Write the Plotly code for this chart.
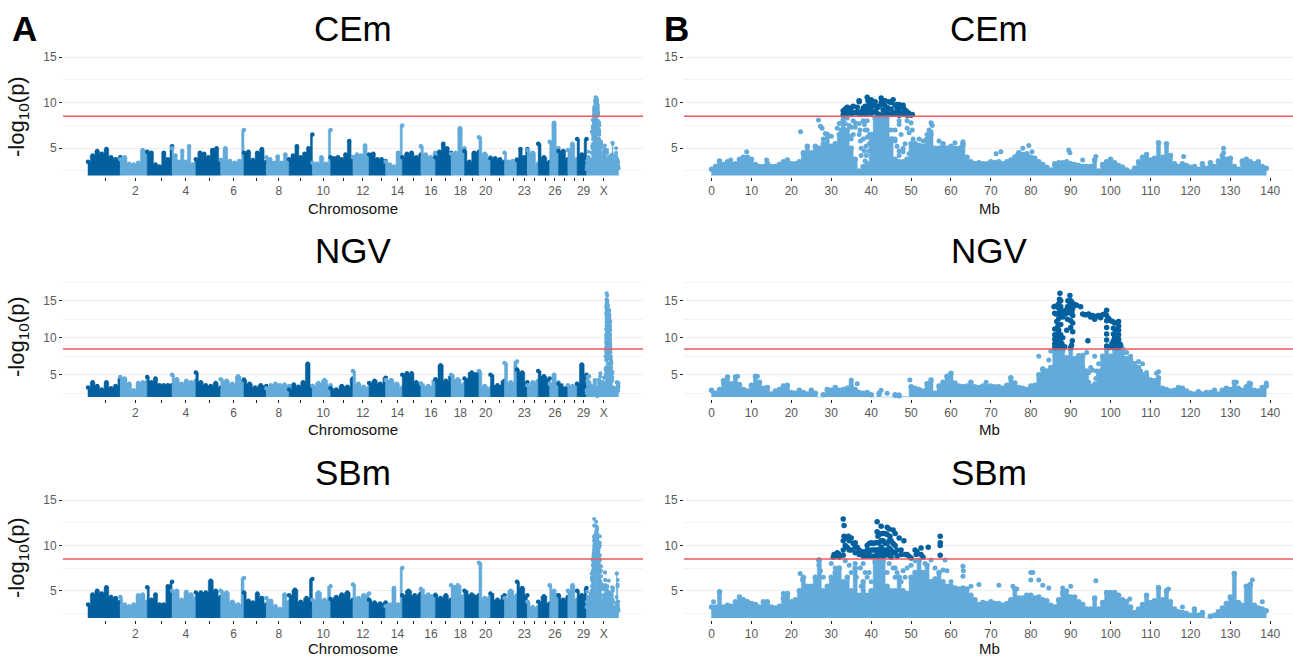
import numpy as np
import plotly.graph_objects as go

DARK = "#03609e"
LIGHT = "#62aad9"
THRESHOLD = 8.5
BASE = 2.0

CHR_LENGTHS = [140,117,108,103,108,101,97,99,101,79,97,70,72,72,81,63,68,58,63,50,61,54,45,47,50,38,41,40,41,139]
CHR_TICKS = [77,205,319,425,529,632,733,828,923,1021,1107,1193,1274,1343,1411,1489,1553,1616,1670,1726,1787,1845,1894,1940,1987,2027,2070,2111,2151,2239]
CHR_LABELS = ["","2","","4","","6","","8","","10","","12","","14","","16","","18","","20","","","23","","","26","","","29","X"]
MB_TICKS = list(range(0, 141, 10))

# autosomes 1-29: height of the mass along each chromosome
CEM_GENOME = [
 [3.5,4.2,4.7,4.4,4.9,4.0,3.8,4.0],[3.8,4.0,3.3,3.2,3.4,4.8,4.6],[4.6,4.5,3.2,3.0,4.5,3.8,5.2],[5.0,4.2,3.5,4.7,3.5,5.2,3.2,3.4],
 [3.8,4.5,4.4,4.0,4.8,5.0,3.7],[3.7,5.0,3.6,3.4,3.6,7.0],[4.5,4.6,3.7,4.5,4.9,3.5],[4.0,3.8,3.4,4.1,3.4,4.3,3.5],
 [3.8,4.2,5.2,4.0,4.4,5.0,6.5],[3.4,3.3,4.0,3.3,7.0],[4.0,3.9,4.0,3.8,4.3,5.8,4.0],[4.0,4.3,4.2,5.3,4.0],[4.3,4.4,3.8,3.8,3.6],
 [3.5,3.2,3.0,4.5,7.5],[4.0,4.4,4.5,4.0,4.3],[5.2,4.3,4.0,4.5],[4.0,4.6,5.5,5.0,4.5],[4.4,4.5,7.2,5.0],[4.7,3.5,4.5,4.6],
 [6.2,4.4,4.0],[3.9,3.9,3.8,3.5],[4.5,3.5,3.6,3.8],[3.7,4.9,4.0,4.9],[4.8,4.5,3.3],[5.5,4.0,3.5],[5.7,7.8,5.0],[4.7,4.7,3.8],
 [4.8,5.5,3.8],[6.0,4.3,6.0]]
NGV_GENOME = [
 [3.3,4.0,3.5,3.0,4.0,3.2,3.5,4.5],[4.7,4.5,3.8,2.9,3.9,4.0,4.1],[4.7,4.0,4.5,3.6,3.6,3.6,3.6],[5.0,4.4,3.8,4.2,4.0,4.2],
 [5.3,4.0,3.6,3.5,3.9,3.3],[4.4,4.2,3.8,4.8,4.4],[4.3,3.8,3.3,3.6,3.5],[3.2,3.6,3.8,3.6,3.7,3.5],[3.0,3.7,3.4,4.0,6.5,3.5],
 [3.5,3.9,4.3,3.6],[3.2,3.0,3.5,3.4,4.5],[5.5,3.8,3.4,3.3],[3.9,4.2,3.8,4.6],[4.3,4.3,3.8,3.3],[5.0,5.2,5.2,4.0,3.8],[3.8,3.5,4.3],
 [4.4,6.3,4.2,4.8],[5.0,4.4,3.8],[4.5,5.3,5.3],[5.5,3.5,3.2],[5.0,3.6,4.2],[6.6,4.0,6.8],[5.7,5.3,4.0],[3.6,4.0,4.2],[5.5,4.8,4.5],
 [3.8,5.0,4.0],[3.8,3.4],[3.6,3.5,3.8],[3.8,6.4,5.0]]
SBM_GENOME = [
 [3.5,4.6,5.0,4.7,5.4,4.3,4.2,3.8],[4.3,3.5,3.3,3.5,4.5,4.6,3.8],[5.4,4.0,4.6,3.5,3.5,5.5,6.0],[5.0,5.0,4.0,4.9,4.6,4.2],
 [4.8,4.8,4.8,6.1,5.0,4.3],[5.0,4.8,3.8,3.5,6.4],[4.8,3.9,3.7,4.7,4.2,3.5],[4.2,3.9,3.3,3.0,4.6,3.8],[4.5,5.1,3.8,4.2,6.3],
 [4.0,4.8,4.0,5.5],[4.1,4.3,4.6,4.8,4.0],[5.7,4.2,4.5,4.7],[4.0,3.7,3.6,3.7],[3.3,3.5,5.3,3.5,7.5],[4.5,5.0,4.5,4.7],[5.2,4.6,4.6],
 [4.5,4.2,4.5,4.0],[5.6,5.6,4.5],[5.0,4.6,4.5],[8.1,4.2,4.4],[4.7,4.0,4.5],[4.2,5.0,4.5],[6.0,5.3,4.5],[3.8,3.2,3.2],[3.8,4.4,3.6],
 [5.6,5.0,4.5],[4.5,4.0,4.3],[5.0,5.6,4.0],[5.0,4.5,5.3]]

# top of the solid mass, one value per Mb of chromosome X
X_MB = list(range(0, 140))
CEM_X = [2.7,3.0,3.6,3.2,3.5,3.2,3.3,3.8,4.0,4.0,3.8,3.2,3.0,3.0,3.3,3.0,3.0,3.2,3.5,3.7,3.3,3.3,3.5,4.5,5.2,4.5,5.2,5.0,5.5,6.5,5.2,5.5,6.5,8.0,7.0,5.0,3.8,2.5,3.0,3.3,6.5,8.3,8.5,8.5,8.5,6.0,3.8,3.5,3.5,3.8,5.5,5.5,5.3,5.2,6.0,6.5,5.0,5.0,5.5,5.0,5.2,5.0,5.0,5.5,4.0,3.5,3.3,3.4,3.3,3.3,3.5,3.4,3.5,3.3,3.5,3.7,4.0,4.5,4.3,4.4,4.0,3.9,3.5,3.2,2.9,2.6,3.3,3.4,3.4,3.5,3.3,3.2,3.1,3.0,3.0,3.0,3.7,2.5,3.2,3.5,3.8,3.4,3.1,2.9,2.6,2.4,2.8,3.5,4.0,4.3,3.7,3.9,5.6,4.0,5.5,4.2,3.3,3.0,3.3,3.1,2.9,3.0,2.7,3.3,2.8,3.4,3.0,3.6,4.2,3.8,3.9,3.0,2.7,3.6,3.8,3.5,3.3,3.5,3.0,2.8]
NGV_X = [2.9,2.5,3.0,4.2,4.7,3.8,4.7,3.7,3.0,2.8,3.6,4.8,4.0,3.2,3.3,2.4,2.8,3.0,3.5,3.6,2.6,2.5,2.9,2.6,2.4,2.9,2.5,2.0,2.3,3.0,2.9,3.3,2.9,3.0,3.2,3.5,3.0,2.6,2.5,2.6,2.3,2.0,2.5,2.0,2.0,2.0,2.3,2.1,2.0,2.0,3.4,3.2,3.0,2.8,3.8,4.3,2.5,3.5,4.0,4.8,5.2,3.9,3.5,3.4,3.5,4.0,3.4,3.3,3.5,3.4,3.5,3.4,3.4,3.2,3.6,4.6,3.9,3.3,3.2,3.0,3.5,3.6,5.0,5.8,5.5,6.0,8.5,8.5,8.3,7.3,8.5,7.2,7.5,7.6,5.5,3.2,3.5,5.0,7.5,8.5,7.5,8.5,8.5,8.3,7.2,7.0,6.5,6.0,5.0,4.8,4.3,4.2,4.6,3.2,3.0,2.8,2.9,3.3,3.2,2.8,2.5,2.4,2.7,2.4,2.6,2.6,2.9,2.4,2.9,3.2,3.0,4.0,3.2,2.9,3.4,3.8,2.9,2.8,3.3,3.5]
SBM_X = [3.2,3.2,4.9,3.2,3.4,3.3,3.8,4.3,4.0,3.8,3.6,3.5,3.2,3.8,3.8,3.2,3.1,3.3,4.2,4.7,3.8,4.0,5.0,6.5,5.5,5.5,6.5,8.4,5.0,5.5,6.5,7.0,7.5,6.0,6.5,5.0,7.5,4.5,6.0,4.5,5.0,8.2,8.5,8.3,5.5,5.0,5.0,6.5,5.0,4.7,6.5,7.0,8.3,7.0,7.8,6.0,6.3,7.0,6.0,5.5,5.5,5.3,5.2,5.3,5.2,4.5,4.0,3.5,3.7,3.6,3.8,3.6,3.6,3.4,3.6,4.0,5.2,4.2,4.2,4.5,4.5,4.2,4.3,4.0,3.9,3.4,3.2,4.0,4.8,4.5,4.3,4.3,3.8,3.5,3.0,3.0,4.2,3.0,3.7,4.8,4.8,4.8,4.5,4.0,3.8,3.2,2.6,3.0,3.5,4.5,3.7,3.9,5.3,4.0,5.0,3.8,3.0,2.7,2.6,2.5,2.3,3.0,2.3,2.6,2.0,2.2,2.3,2.7,3.1,3.6,4.3,6.9,3.7,3.4,5.5,5.7,3.4,3.1,3.0,2.8]

CEM_LIGHT_MB = [22.3,26.8,27.3,27.7,28.5,29,28,30,31.5,32,32.5,33,33.5,34,34.5,35,35.5,36,37,37,37.3,37.5,37.5,38,38.3,38.7,39,39,38.8,38.5,39.5,39.6,46,46,46.5,47,47,47.5,47,48,48.5,49,49,49.5,50,50.3,49.5,50,50.5,51,52,53,54,54.5,55,55.3,55,57,58,61,63,63,8.8,13.8,71.3,72.5,76.5,78,79.5,80.3,89.5,89.8,93,96.3,118.3,128.3,128.3,4.8,38,38.5,39,37.2,39.5,38.3,45,45.5,46,47,48,36,35.5,35,34.5]
CEM_LIGHT_P = [6.8,8.1,7.4,7.2,6.6,6.5,6.0,6.3,7.2,7.7,7.0,8.3,7.7,8.3,7.5,7.3,8.0,7.8,7.7,6.5,5.8,5.0,4.2,8.0,7.6,5.2,8.0,7.0,4.2,3.6,4.7,6.5,7.0,5.8,5.2,8.0,7.6,6.5,4.7,5.0,5.5,8.0,7.2,6.7,7.8,7.0,4.4,3.4,6.0,5.5,6.0,5.8,6.5,7.0,7.8,7.5,6.8,5.8,5.3,5.6,5.7,5.3,4.6,3.7,4.4,4.6,4.2,5.0,5.3,4.6,4.8,4.5,3.7,4.1,4.1,5.0,4.5,3.7,6.0,7.0,6.2,7.0,5.5,4.7,7.0,6.0,6.0,4.2,4.6,7.3,6.5,6.0,6.3]
CEM_HIT_MB = [33,33,33.5,34,34.5,35,35,35.5,36,36.5,37,37,37,37.5,38,38.5,39,39.2,39.5,39.7,40,40,40.3,40.6,41,41,41.5,42,42,42.5,42.5,43,43.3,43.5,44,44,44.5,45,45,45.5,45,46,46.5,47,47,47.5,48,48,48.5,49,49,49.5,50,50.3,33.5,34,35.5,36.5,37.5,38,38.5,39,39,40.5,41.5,43,44,45.5,46,46.5,47,48,47.5,43,41,38.5]
CEM_HIT_P = [8.7,9.1,9.3,8.8,9.0,8.7,9.4,9.6,8.9,9.0,10.1,10.2,8.7,9.0,8.8,9.1,10.6,10.2,9.9,9.2,8.8,10.3,9.6,10.0,9.0,9.7,9.4,8.7,9.6,10.5,10.0,9.2,9.7,10.2,8.7,9.5,10.1,10.0,9.3,10.3,8.7,9.7,9.3,9.8,9.0,9.5,9.4,8.8,9.2,9.0,8.6,8.8,8.6,8.7,8.7,9.5,8.9,9.5,8.7,9.4,8.7,8.8,9.5,9.0,8.8,8.7,9.0,8.9,8.8,9.8,8.6,9.7,8.8,10.2,10.1,9.6]

NGV_LIGHT_MB = [82,83,84.5,85,86,35,35,36.5,6.5,11.5,49.7,42.5,44,46,47,68.8,131.5,134.7,139,112,111.5,108,107,107.5,109,94,92,96,93,95,97,94.5,95,96,96.3,93.3,92.5,91.5,91.6,93,97,103,104,105,94.5,95.5,96.5,97.3]
NGV_LIGHT_P = [7.5,5.8,7,8.2,8,4.3,4.0,3.8,4.8,4.8,4.3,2.9,2.5,2.2,2.3,4.0,4.0,3.9,3.9,5.4,5.2,6.5,6.8,5.5,5.3,8,7.6,7.5,6,6,6.5,4.0,3.5,3.8,4.5,4.2,5,5,3.6,3.2,4.7,8.6,8,7.5,5.3,5.6,5.5,5.5]
NGV_HIT_MB = [86,86,86,86,86,85.8,86.3,86.5,86.3,86.8,86.8,86.8,86.8,87,87,87,87,87.2,87.3,87.5,87.5,87.5,87.5,87.5,87.5,87.5,88,88,88,88.3,88.7,88.5,89,89.2,89,89.3,89.5,89.8,90,90,90,90,90,90.2,90,90.3,90.5,90.5,90.5,91,91.5,90.5,90.4,92.5,93,93.5,94,94.5,95,95,95.5,96,96.5,97,97.5,98,98.5,99,99,99,99,99,99,99,99.5,99.5,100,100.5,100.7,100.7,100.7,100.7,101,101.3,101.5,101.5,101.5,102,102,102,102,102,102.3,102.5,94.3,86.3,86.3,86.3,86.5,87,87,87,87,87.8,100,100.3,101,101,101,101.8,102,86,87.6,90.3,89.8,89.7,89.2]
NGV_HIT_P = [8.7,9.2,9.8,10.4,11.2,14.2,13.2,12.2,14.3,8.8,9.5,10.5,11.6,12.6,13.3,14.0,14.6,15.2,16.0,15.0,14.2,13.0,11.8,10.4,8.9,9.4,8.7,10.0,12.8,13.6,13.2,8.8,13.8,12.5,11.0,15.0,14.2,15.7,15.0,14.2,13.3,12.3,11.4,9.0,8.7,14.8,14.0,13.0,12.0,14.5,14.4,10.8,9.6,14.2,13.2,13.1,13.1,13.2,13.0,12.8,13.0,12.5,12.9,13.0,12.7,13.1,13.2,13.7,13.0,12.3,11.4,10.5,9.7,8.9,12.6,8.7,12.3,12.2,11.3,10.5,9.6,8.8,12,11.0,10.3,9.4,8.7,12.2,11.6,11,10.4,9.8,9.2,9,9.6,8.7,9.5,10.2,11.2,8.7,9.3,10.0,11.0,9.2,8.7,9.2,8.7,9.3,10.0,8.9,8.7,13.3,13.6,13.5,14.5,13.5,14.2]

SBM_LIGHT_MB = [22.2,22.8,26.8,26.9,27.3,28,30,31,33.5,34.5,35,36,36.3,37.3,38,38.5,37.5,38,39,46,46.5,47,47.5,48,48.5,49,50,51,52,53.5,55,56,58.5,58,59,60,63,63.1,63,65,67,72,75.5,76.5,80,80.5,80,82,83,84.5,88,89,90,96.3,104.8,112,114.5,118,131,135.5,138,0.5,18,19,39.5,40,44.5,45.5,44,46]
SBM_LIGHT_P = [6.9,6.2,8.4,7.8,7.2,6.5,8,7.5,8.3,7.8,7,8,6.5,7.5,8,7,5.5,5,6.5,7.5,7,6.5,6,7.2,6.5,7.5,7.8,8.3,8.4,8,8.4,7.5,8.4,7.3,7.2,6,7.7,7.2,6.6,5.5,5.7,5.6,5.5,5.2,7.0,7.0,6.2,6.2,5.6,5.3,5.3,5.0,5.5,6.1,4.1,5.4,5.2,3.2,6.9,6.2,3.8,3.8,4.7,4.4,7.0,6.0,8.0,7.5,7.0,6.5]
SBM_HIT_MB = [30.5,30.7,31,32,32,33,33.2,33.2,33,33.5,33,33.8,34.3,34.5,35,35.5,35,36,36,36.5,37,38,38.7,39,39,39,39.5,40,40,40,40.5,41,41,41,41.5,41.5,41.7,42,42,42,42.5,42.7,43,43,43,43.5,44,44,44,44.5,44.7,45,45,45,45.5,45.5,46,46,46.5,47,47.5,47.5,48.2,48.5,49,49.5,50,51,51.3,51.5,52.5,52.5,53,54.3,57.3,57.3,57.3,57.3,39.5,39.5,40.5,40.5,41.5,41.5,41.5,42.5,42.5,42.5,43.5,43.5,43.5,44.5,44.5,44.5,45.5,43,42,44,46,46.5,38,36,37,34,34.5,33,31.5]
SBM_HIT_P = [8.7,9.0,8.8,9.0,8.7,12.9,12.2,11.0,10.5,10.0,9.5,10.8,11,10.5,10.8,10.2,9.5,10.3,9.2,9.8,9.0,8.8,8.8,10,9.5,9,10.2,10.3,9.5,8.8,10.2,10.3,9.5,8.8,11.5,12.6,11,10.3,9.5,8.8,12.1,11.3,10.5,9.5,8.8,10.2,11.2,10.2,9.2,11.8,11,10.5,9.5,8.7,11.7,10.2,11.3,10,9.5,10.8,9.5,9.0,10.5,9,9,8.8,8.6,9.5,9.0,9.3,9.7,9,8.7,9.8,11,10.3,10.0,8.9,9.3,8.8,9.5,8.8,10.3,9.5,9,10.5,9.8,9.1,11.3,9.5,8.9,10.5,9.7,8.9,9.2,11.3,11.2,12,9.2,8.8,9.3,9.8,9.5,9.8,9.5,8.9,9.2]

W, H = 1293, 657
ROWS = [
    dict(name="CEm", top=55, bottom=177, yr=[1.84, 15.22], title_y=28, lab_y=208, ylab_y=117,
         genome=CEM_GENOME, solid=CEM_X, lx=CEM_LIGHT_MB, ly=CEM_LIGHT_P, hx=CEM_HIT_MB, hy=CEM_HIT_P,
         tv=[5,10,15], mv=[2.5,7.5,12.5]),
    dict(name="NGV", top=280, bottom=398.5, yr=[1.8, 17.8], title_y=250, lab_y=429, ylab_y=337,
         genome=NGV_GENOME, solid=NGV_X, lx=NGV_LIGHT_MB, ly=NGV_LIGHT_P, hx=NGV_HIT_MB, hy=NGV_HIT_P,
         tv=[5,10,15], mv=[2.5,7.5,12.5,17.5]),
    dict(name="SBm", top=498, bottom=620, yr=[1.78, 15.22], title_y=472, lab_y=648, ylab_y=558,
         genome=SBM_GENOME, solid=SBM_X, lx=SBM_LIGHT_MB, ly=SBM_LIGHT_P, hx=SBM_HIT_MB, hy=SBM_HIT_P,
         tv=[5,10,15], mv=[2.5,7.5,12.5]),
]
LEFT_DOM = [63/W, 643/W]
RIGHT_DOM = [684/W, 1293/W]
LEFT_RANGE = [-108.5, 2409]
RIGHT_RANGE = [-6.9, 145.7]
TXT = "Liberation Sans, Arial, sans-serif"

fig = go.Figure()
layout = dict(width=W, height=H, margin=dict(l=0, r=0, t=0, b=0, autoexpand=False), autosize=False,
              paper_bgcolor="white", plot_bgcolor="white", showlegend=False,
              font=dict(family=TXT))
ann, shapes = [], []

def axes(i, row, left):
    n = 2*i + (1 if left else 2)
    sfx = "" if n == 1 else str(n)
    layout["xaxis"+sfx] = dict(
        domain=LEFT_DOM if left else RIGHT_DOM, range=LEFT_RANGE if left else RIGHT_RANGE,
        anchor="y"+sfx, showgrid=False, zeroline=False, showline=False, ticks="outside", ticklen=3,
        tickwidth=1, tickcolor="#222", tickvals=CHR_TICKS if left else MB_TICKS,
        ticktext=CHR_LABELS if left else [str(v) for v in MB_TICKS],
        tickfont=dict(size=12, color="#5a5a5a"))
    layout["yaxis"+sfx] = dict(
        domain=[1-row["bottom"]/H, 1-row["top"]/H], range=row["yr"], anchor="x"+sfx,
        showgrid=True, gridcolor="#ededed", gridwidth=1.4, zeroline=False, showline=False,
        ticks="outside", ticklen=3, tickwidth=1, tickcolor="#222", tickvals=row["tv"],
        tickfont=dict(size=12, color="#5a5a5a"),
        minor=dict(tickvals=row["mv"], showgrid=True, gridcolor="#f3f3f3", gridwidth=1, ticks=""))
    shapes.append(dict(type="line", xref="x"+sfx+" domain", yref="y"+sfx, x0=0, x1=1,
                       y0=THRESHOLD, y1=THRESHOLD, line=dict(color="#f2575b", width=1.5), layer="above"))
    return "x"+sfx, "y"+sfx

def column_outline(centres, tops):
    """Closed step outline: one column per value, standing on the baseline."""
    c = np.asarray(centres, float)
    edges = np.concatenate([[c[0]], (c[1:]+c[:-1])/2, [c[-1]]])
    xs, ys = [edges[0]], [BASE]
    for k, t in enumerate(tops):
        xs += [edges[k], edges[k+1]]
        ys += [t, t]
    xs.append(edges[-1]); ys.append(BASE)
    return xs, ys

def add_mass(centres, tops, colour, xa, ya, size):
    px, py = column_outline(centres, tops)
    fig.add_trace(go.Scatter(x=px, y=py, mode="lines", fill="toself", fillcolor=colour,
                             line=dict(width=0.5, color=colour), xaxis=xa, yaxis=ya, hoverinfo="skip"))
    ex = [x for x, y in zip(centres, tops) if y > BASE]
    ey = [y for y in tops if y > BASE]
    add_dots(ex, ey, colour, xa, ya, size)

def add_dots(xs, ys, colour, xa, ya, size):
    fig.add_trace(go.Scatter(x=xs, y=ys, mode="markers", marker=dict(size=size, color=colour),
                             xaxis=xa, yaxis=ya, hoverinfo="skip"))

starts = np.concatenate([[0], np.cumsum(CHR_LENGTHS)])
for i, row in enumerate(ROWS):
    xa, ya = axes(i, row, True)
    for c, vals in enumerate(row["genome"]):
        colour = DARK if c % 2 == 0 else LIGHT
        add_mass(np.linspace(starts[c], starts[c+1], len(vals)).tolist(), vals, colour, xa, ya, 4.5)
    # chromosome X in the genome panel comes from the same values as panel B
    xo = float(starts[29])
    add_mass([xo+v for v in X_MB], row["solid"], LIGHT, xa, ya, 4)
    add_dots([xo+v for v in row["lx"]+row["hx"]], row["ly"]+row["hy"], LIGHT, xa, ya, 4)
    ann.append(dict(text=row["name"], xref="paper", yref="paper", x=353/W, y=1-row["title_y"]/H,
                    showarrow=False, xanchor="center", yanchor="middle", font=dict(size=35, color="#000")))
    ann.append(dict(text="Chromosome", xref="paper", yref="paper", x=353/W, y=1-row["lab_y"]/H,
                    showarrow=False, xanchor="center", yanchor="middle", font=dict(size=15, color="#111")))
    ann.append(dict(text="-log<sub>10</sub>(p)", xref="paper", yref="paper", x=18/W, y=1-row["ylab_y"]/H,
                    showarrow=False, textangle=-90, xanchor="center", yanchor="middle",
                    font=dict(size=22, color="#111")))
    xa, ya = axes(i, row, False)
    add_mass(X_MB, row["solid"], LIGHT, xa, ya, 5.5)
    add_dots(row["lx"], row["ly"], LIGHT, xa, ya, 5)
    add_dots(row["hx"], row["hy"], DARK, xa, ya, 5.5)
    ann.append(dict(text=row["name"], xref="paper", yref="paper", x=989/W, y=1-row["title_y"]/H,
                    showarrow=False, xanchor="center", yanchor="middle", font=dict(size=35, color="#000")))
    ann.append(dict(text="Mb", xref="paper", yref="paper", x=989/W, y=1-row["lab_y"]/H,
                    showarrow=False, xanchor="center", yanchor="middle", font=dict(size=15, color="#111")))

for letter, px_ in (("A", 24), ("B", 676)):
    ann.append(dict(text="<b>"+letter+"</b>", xref="paper", yref="paper", x=px_/W, y=1-28/H, showarrow=False,
                    xanchor="center", yanchor="middle", font=dict(size=35, color="#000")))

layout["annotations"] = ann
layout["shapes"] = shapes
fig.update_layout(**layout)
fig.write_html("out.html", post_script="document.body.style.margin='0';document.body.style.overflow='hidden';",
               config=dict(displayModeBar=False))
